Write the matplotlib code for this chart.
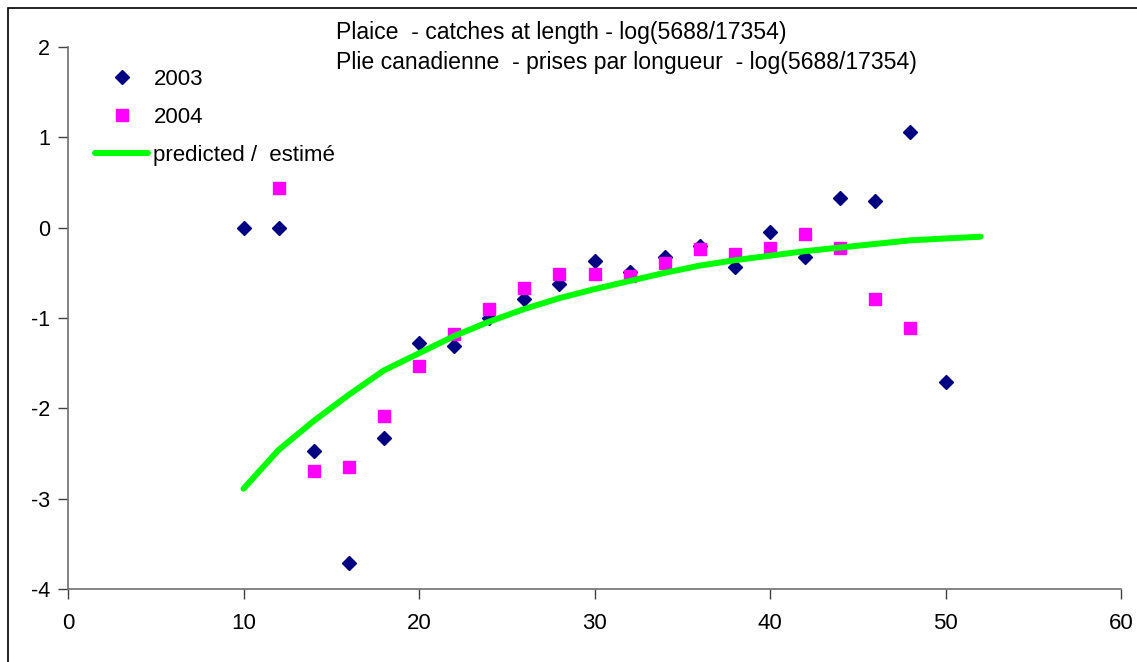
import matplotlib.pyplot as plt
from matplotlib.patches import Rectangle

plt.rcParams['font.family'] = ['Liberation Sans', 'DejaVu Sans']
plt.rcParams['axes.unicode_minus'] = False

# length classes (cm)
len_2003 = [10, 12, 14, 16, 18, 20, 22, 24, 26, 28, 30, 32, 34, 36, 38, 40, 42, 44, 46, 48, 50]
log_2003 = [0.0, 0.0, -2.47, -3.71, -2.33, -1.28, -1.31, -1.0, -0.79, -0.62, -0.37, -0.49,
            -0.33, -0.2, -0.44, -0.05, -0.33, 0.33, 0.30, 1.06, -1.71]

len_2004 = [12, 14, 16, 18, 20, 22, 24, 26, 28, 30, 32, 34, 36, 38, 40, 42, 44, 46, 48]
log_2004 = [0.44, -2.69, -2.65, -2.09, -1.53, -1.18, -0.90, -0.67, -0.51, -0.51, -0.53,
            -0.39, -0.24, -0.29, -0.22, -0.07, -0.22, -0.79, -1.11]

len_pred = [10, 12, 14, 16, 18, 20, 22, 24, 26, 28, 30, 32, 34, 36, 38, 40, 42, 44, 46, 48, 50, 52]
log_pred = [-2.89, -2.46, -2.14, -1.85, -1.58, -1.39, -1.20, -1.04, -0.90, -0.78, -0.68, -0.59,
            -0.50, -0.42, -0.36, -0.31, -0.26, -0.22, -0.18, -0.14, -0.12, -0.10]

title_lines = ["Plaice  - catches at length - log(5688/17354)",
               "Plie canadienne  - prises par longueur  - log(5688/17354)"]

W, H = 1137, 662
fig = plt.figure(figsize=(W / 100, H / 100), dpi=100)
ax = fig.add_axes([68 / W, 1 - 589 / H, (1121 - 68) / W, (589 - 47) / H])

ax.plot(len_2003, log_2003, linestyle='none', marker='D', markersize=6.8,
        color='#000080', label='2003')
ax.plot(len_2004, log_2004, linestyle='none', marker='s', markersize=9,
        color='#FF00FF', label='2004')
ax.plot(len_pred, log_pred, color='#00FF00', linewidth=4.3,
        solid_capstyle='round', label='predicted /  estimé')

ax.set_xlim(0, 60)
ax.set_ylim(-4, 2)
ax.set_xticks(range(0, 61, 10))
ax.set_yticks(range(-4, 3))

for side in ['top', 'right']:
    ax.spines[side].set_visible(False)
for side in ['left', 'bottom']:
    ax.spines[side].set_color('#707070')
    ax.spines[side].set_linewidth(1.2)
ax.tick_params(axis='both', direction='out', length=7, width=1, color='#404040')
ax.tick_params(axis='x', labelsize=16, pad=10)
ax.tick_params(axis='y', labelsize=15.5, pad=6)

leg = ax.legend(loc='upper left', bbox_to_anchor=(95 / W, 1 - 69 / H),
                bbox_transform=fig.transFigure, frameon=False,
                fontsize=16, handlelength=2.4, handletextpad=0.23,
                labelspacing=0.76, borderaxespad=0, borderpad=0)

for i, line in enumerate(title_lines):
    fig.text(336 / W, 1 - (32 + 30 * i) / H, line, fontsize=16.6, ha='left', va='center')

# outer frame round the chart
fig.patches.append(Rectangle((8 / W, -0.01), 1.0, (H - 8) / H + 0.01,
                             transform=fig.transFigure, fill=False,
                             edgecolor='black', linewidth=1.2))

fig.savefig('out.png', dpi=100)
